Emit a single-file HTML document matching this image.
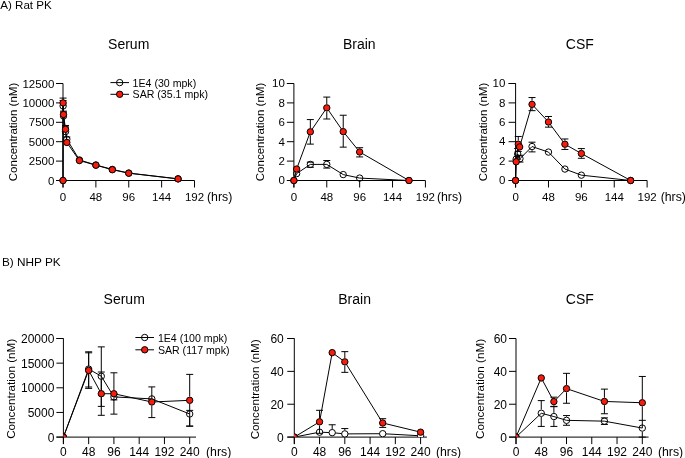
<!DOCTYPE html><html><head><meta charset="utf-8"><style>html,body{margin:0;padding:0;background:#fff;}svg{display:block;}</style></head><body>
<svg width="685" height="458" viewBox="0 0 685 458" font-family='"Liberation Sans", sans-serif' fill="#000">
<rect width="685" height="458" fill="#fff"/>
<g style="opacity:0.999">
<text x="0.2" y="8.7" font-size="11.6">A) Rat PK</text>
<text x="1.9" y="266.1" font-size="11.8">B) NHP PK</text>
<path d="M56 83.5H63V187.5" fill="none" stroke="#000" stroke-width="1.0"/>
<path d="M56 180.5H194.52" fill="none" stroke="#000" stroke-width="1.0"/>
<path d="M56 180.5H63M56 161.1H63M56 141.7H63M56 122.3H63M56 102.9H63M56 83.5H63M63 180.5V187.5M95.88 180.5V187.5M128.76 180.5V187.5M161.64 180.5V187.5M194.52 180.5V187.5" fill="none" stroke="#000" stroke-width="1.0"/>
<text x="54.4" y="184.5" text-anchor="end" font-size="11.5">0</text>
<text x="54.4" y="165.1" text-anchor="end" font-size="11.5">2500</text>
<text x="54.4" y="145.7" text-anchor="end" font-size="11.5">5000</text>
<text x="54.4" y="126.3" text-anchor="end" font-size="11.5">7500</text>
<text x="54.4" y="106.9" text-anchor="end" font-size="11.5">10000</text>
<text x="54.4" y="87.5" text-anchor="end" font-size="11.5">12500</text>
<text x="63" y="200.5" text-anchor="middle" font-size="11.5">0</text>
<text x="95.88" y="200.5" text-anchor="middle" font-size="11.5">48</text>
<text x="128.76" y="200.5" text-anchor="middle" font-size="11.5">96</text>
<text x="161.64" y="200.5" text-anchor="middle" font-size="11.5">144</text>
<text x="194.52" y="200.5" text-anchor="middle" font-size="11.5">192</text>
<text x="207" y="200.5" font-size="12.3">(hrs)</text>
<text x="128.7" y="48.5" text-anchor="middle" font-size="14">Serum</text>
<text transform="translate(16.8 132) rotate(-90)" text-anchor="middle" font-size="11.5">Concentration (nM)</text>
<path d="M286.9 83.5H293.9V187.5" fill="none" stroke="#000" stroke-width="1.0"/>
<path d="M286.9 180.5H425.42" fill="none" stroke="#000" stroke-width="1.0"/>
<path d="M286.9 180.5H293.9M286.9 161.1H293.9M286.9 141.7H293.9M286.9 122.3H293.9M286.9 102.9H293.9M286.9 83.5H293.9M293.9 180.5V187.5M326.78 180.5V187.5M359.66 180.5V187.5M392.54 180.5V187.5M425.42 180.5V187.5" fill="none" stroke="#000" stroke-width="1.0"/>
<text x="284.9" y="184.3" text-anchor="end" font-size="11.5">0</text>
<text x="284.9" y="164.9" text-anchor="end" font-size="11.5">2</text>
<text x="284.9" y="145.5" text-anchor="end" font-size="11.5">4</text>
<text x="284.9" y="126.1" text-anchor="end" font-size="11.5">6</text>
<text x="284.9" y="106.7" text-anchor="end" font-size="11.5">8</text>
<text x="284.9" y="87.3" text-anchor="end" font-size="11.5">10</text>
<text x="293.9" y="200.5" text-anchor="middle" font-size="11.5">0</text>
<text x="326.78" y="200.5" text-anchor="middle" font-size="11.5">48</text>
<text x="359.66" y="200.5" text-anchor="middle" font-size="11.5">96</text>
<text x="392.54" y="200.5" text-anchor="middle" font-size="11.5">144</text>
<text x="425.42" y="200.5" text-anchor="middle" font-size="11.5">192</text>
<text x="436.9" y="200.5" font-size="12.3">(hrs)</text>
<text x="359.3" y="48.5" text-anchor="middle" font-size="14">Brain</text>
<text transform="translate(263.5 132) rotate(-90)" text-anchor="middle" font-size="11.5">Concentration (nM)</text>
<path d="M508.6 83.5H515.6V187.5" fill="none" stroke="#000" stroke-width="1.0"/>
<path d="M508.6 180.5H647.12" fill="none" stroke="#000" stroke-width="1.0"/>
<path d="M508.6 180.5H515.6M508.6 161.1H515.6M508.6 141.7H515.6M508.6 122.3H515.6M508.6 102.9H515.6M508.6 83.5H515.6M515.6 180.5V187.5M548.48 180.5V187.5M581.36 180.5V187.5M614.24 180.5V187.5M647.12 180.5V187.5" fill="none" stroke="#000" stroke-width="1.0"/>
<text x="505.3" y="184.1" text-anchor="end" font-size="11.5">0</text>
<text x="505.3" y="164.7" text-anchor="end" font-size="11.5">2</text>
<text x="505.3" y="145.3" text-anchor="end" font-size="11.5">4</text>
<text x="505.3" y="125.9" text-anchor="end" font-size="11.5">6</text>
<text x="505.3" y="106.5" text-anchor="end" font-size="11.5">8</text>
<text x="505.3" y="87.1" text-anchor="end" font-size="11.5">10</text>
<text x="515.6" y="200.5" text-anchor="middle" font-size="11.5">0</text>
<text x="548.48" y="200.5" text-anchor="middle" font-size="11.5">48</text>
<text x="581.36" y="200.5" text-anchor="middle" font-size="11.5">96</text>
<text x="614.24" y="200.5" text-anchor="middle" font-size="11.5">144</text>
<text x="647.12" y="200.5" text-anchor="middle" font-size="11.5">192</text>
<text x="660.7" y="200.5" font-size="12.3">(hrs)</text>
<text x="579.8" y="48.5" text-anchor="middle" font-size="14">CSF</text>
<text transform="translate(486.8 132) rotate(-90)" text-anchor="middle" font-size="11.5">Concentration (nM)</text>
<g>
<path d="M63 180.5 L63.1 106 L63.51 116.09 L65.53 131.61 L66.84 139.22 L79.44 159.94 L95.88 164.98 L112.32 169.4 L128.76 173.05 L178.08 178.83" fill="none" stroke="#000" stroke-width="1"/>
</g>
<g>
<path d="M63 180.5 L63.1 102.9 L63.51 114.54 L65.53 129.28 L66.84 142.48 L79.44 160.56 L95.88 165.21 L112.32 169.71 L128.76 173.21 L178.08 178.91" fill="none" stroke="#000" stroke-width="1"/>
</g>
<path d="M63.1 102.3V100.57M59.6 100.57H66.6M63.51 112.39V112.21M60.01 112.21H67.01M65.53 127.91V126.96M62.03 126.96H69.03M63.34 137.04H70.34" fill="none" stroke="#000" stroke-width="1"/>
<path d="M63.1 99.2V98.09M59.6 98.09H66.6M60.01 111.13H67.01M65.53 125.58V125.48M62.03 125.48H69.03" fill="none" stroke="#000" stroke-width="1"/>
<g>
<circle cx="63" cy="180.5" r="3.2" fill="none" stroke="#000" stroke-width="1"/>
<circle cx="63.1" cy="106" r="3.2" fill="none" stroke="#000" stroke-width="1"/>
<circle cx="63.51" cy="116.09" r="3.2" fill="none" stroke="#000" stroke-width="1"/>
<circle cx="65.53" cy="131.61" r="3.2" fill="none" stroke="#000" stroke-width="1"/>
<circle cx="66.84" cy="139.22" r="3.2" fill="none" stroke="#000" stroke-width="1"/>
<circle cx="79.44" cy="159.94" r="3.2" fill="none" stroke="#000" stroke-width="1"/>
<circle cx="95.88" cy="164.98" r="3.2" fill="none" stroke="#000" stroke-width="1"/>
<circle cx="112.32" cy="169.4" r="3.2" fill="none" stroke="#000" stroke-width="1"/>
<circle cx="128.76" cy="173.05" r="3.2" fill="none" stroke="#000" stroke-width="1"/>
<circle cx="178.08" cy="178.83" r="3.2" fill="none" stroke="#000" stroke-width="1"/>
</g>
<g>
<circle cx="63" cy="180.5" r="3.2" fill="#f81c0c" stroke="#000" stroke-width="1"/>
<circle cx="63.1" cy="102.9" r="3.2" fill="#f81c0c" stroke="#000" stroke-width="1"/>
<circle cx="63.51" cy="114.54" r="3.2" fill="#f81c0c" stroke="#000" stroke-width="1"/>
<circle cx="65.53" cy="129.28" r="3.2" fill="#f81c0c" stroke="#000" stroke-width="1"/>
<circle cx="66.84" cy="142.48" r="3.2" fill="#f81c0c" stroke="#000" stroke-width="1"/>
<circle cx="79.44" cy="160.56" r="3.2" fill="#f81c0c" stroke="#000" stroke-width="1"/>
<circle cx="95.88" cy="165.21" r="3.2" fill="#f81c0c" stroke="#000" stroke-width="1"/>
<circle cx="112.32" cy="169.71" r="3.2" fill="#f81c0c" stroke="#000" stroke-width="1"/>
<circle cx="128.76" cy="173.21" r="3.2" fill="#f81c0c" stroke="#000" stroke-width="1"/>
<circle cx="178.08" cy="178.91" r="3.2" fill="#f81c0c" stroke="#000" stroke-width="1"/>
</g>
<path d="M110.4 82.6H129" stroke="#000" stroke-width="1"/>
<circle cx="119.7" cy="82.6" r="3.2" fill="none" stroke="#000" stroke-width="1"/>
<text x="132.6" y="86.7" font-size="10.6">1E4 (30 mpk)</text>
<path d="M110.4 94.3H129" stroke="#000" stroke-width="1"/>
<circle cx="119.7" cy="94.3" r="3.2" fill="#f81c0c" stroke="#000" stroke-width="1"/>
<text x="132.6" y="98.4" font-size="10.6">SAR (35.1 mpk)</text>
<g>
<path d="M293.9 180.5 L296.64 173.61 L310.34 164.4 L326.78 164.4 L343.22 174.58 L359.66 178.07 L408.98 180.5" fill="none" stroke="#000" stroke-width="1"/>
</g>
<g>
<path d="M293.9 180.5 L296.64 169.05 L310.34 131.81 L326.78 107.85 L343.22 131.61 L359.66 151.98 L408.98 180.5" fill="none" stroke="#000" stroke-width="1"/>
</g>
<path d="M306.84 162.17H313.84M306.84 167.31H313.84M326.78 160.7V160.52M323.28 160.52H330.28M323.28 168.08H330.28" fill="none" stroke="#000" stroke-width="1"/>
<path d="M310.34 128.11V119.58M306.84 119.58H313.84M310.34 135.51V144.12M306.84 144.12H313.84M326.78 104.15V97.08M323.28 97.08H330.28M326.78 111.55V119M323.28 119H330.28M343.22 127.91V115.22M339.72 115.22H346.72M343.22 135.31V147.13M339.72 147.13H346.72M359.66 148.28V147.71M356.16 147.71H363.16M359.66 155.68V156.93M356.16 156.93H363.16" fill="none" stroke="#000" stroke-width="1"/>
<g>
<circle cx="293.9" cy="180.5" r="3.2" fill="none" stroke="#000" stroke-width="1"/>
<circle cx="296.64" cy="173.61" r="3.2" fill="none" stroke="#000" stroke-width="1"/>
<circle cx="310.34" cy="164.4" r="3.2" fill="none" stroke="#000" stroke-width="1"/>
<circle cx="326.78" cy="164.4" r="3.2" fill="none" stroke="#000" stroke-width="1"/>
<circle cx="343.22" cy="174.58" r="3.2" fill="none" stroke="#000" stroke-width="1"/>
<circle cx="359.66" cy="178.07" r="3.2" fill="none" stroke="#000" stroke-width="1"/>
<circle cx="408.98" cy="180.5" r="3.2" fill="none" stroke="#000" stroke-width="1"/>
</g>
<g>
<circle cx="293.9" cy="180.5" r="3.2" fill="#f81c0c" stroke="#000" stroke-width="1"/>
<circle cx="296.64" cy="169.05" r="3.2" fill="#f81c0c" stroke="#000" stroke-width="1"/>
<circle cx="310.34" cy="131.81" r="3.2" fill="#f81c0c" stroke="#000" stroke-width="1"/>
<circle cx="326.78" cy="107.85" r="3.2" fill="#f81c0c" stroke="#000" stroke-width="1"/>
<circle cx="343.22" cy="131.61" r="3.2" fill="#f81c0c" stroke="#000" stroke-width="1"/>
<circle cx="359.66" cy="151.98" r="3.2" fill="#f81c0c" stroke="#000" stroke-width="1"/>
<circle cx="408.98" cy="180.5" r="3.2" fill="#f81c0c" stroke="#000" stroke-width="1"/>
</g>
<g>
<path d="M515.6 180.5 L516.15 159.16 L517.65 153.92 L519.98 158.68 L532.04 146.55 L548.48 152.08 L564.92 169.05 L581.36 175.16 L630.68 180.5" fill="none" stroke="#000" stroke-width="1"/>
</g>
<g>
<path d="M515.6 180.5 L516.15 161.78 L518.27 144.22 L519.64 146.94 L532.04 104.36 L548.48 122.01 L564.92 144.22 L581.36 153.53 L630.68 180.5" fill="none" stroke="#000" stroke-width="1"/>
</g>
<path d="M517.65 150.22V148.49M514.15 148.49H521.15M517.65 157.62V159.16M514.15 159.16H521.15M516.48 155.28H523.48M516.48 162.07H523.48M532.04 142.85V142.19M528.54 142.19H535.54M532.04 150.25V151.88M528.54 151.88H535.54" fill="none" stroke="#000" stroke-width="1"/>
<path d="M518.27 140.52V136.46M514.77 136.46H521.77M518.27 147.92V151.4M514.77 151.4H521.77M532.04 100.66V97.56M528.54 97.56H535.54M532.04 108.06V110.66M528.54 110.66H535.54M548.48 118.31V116.48M544.98 116.48H551.98M548.48 125.71V127.15M544.98 127.15H551.98M564.92 140.52V138.98M561.42 138.98H568.42M564.92 147.92V149.46M561.42 149.46H568.42M581.36 149.83V148.59M577.86 148.59H584.86M581.36 157.23V158.29M577.86 158.29H584.86" fill="none" stroke="#000" stroke-width="1"/>
<g>
<circle cx="515.6" cy="180.5" r="3.2" fill="none" stroke="#000" stroke-width="1"/>
<circle cx="516.15" cy="159.16" r="3.2" fill="none" stroke="#000" stroke-width="1"/>
<circle cx="517.65" cy="153.92" r="3.2" fill="none" stroke="#000" stroke-width="1"/>
<circle cx="519.98" cy="158.68" r="3.2" fill="none" stroke="#000" stroke-width="1"/>
<circle cx="532.04" cy="146.55" r="3.2" fill="none" stroke="#000" stroke-width="1"/>
<circle cx="548.48" cy="152.08" r="3.2" fill="none" stroke="#000" stroke-width="1"/>
<circle cx="564.92" cy="169.05" r="3.2" fill="none" stroke="#000" stroke-width="1"/>
<circle cx="581.36" cy="175.16" r="3.2" fill="none" stroke="#000" stroke-width="1"/>
<circle cx="630.68" cy="180.5" r="3.2" fill="none" stroke="#000" stroke-width="1"/>
</g>
<g>
<circle cx="515.6" cy="180.5" r="3.2" fill="#f81c0c" stroke="#000" stroke-width="1"/>
<circle cx="516.15" cy="161.78" r="3.2" fill="#f81c0c" stroke="#000" stroke-width="1"/>
<circle cx="518.27" cy="144.22" r="3.2" fill="#f81c0c" stroke="#000" stroke-width="1"/>
<circle cx="519.64" cy="146.94" r="3.2" fill="#f81c0c" stroke="#000" stroke-width="1"/>
<circle cx="532.04" cy="104.36" r="3.2" fill="#f81c0c" stroke="#000" stroke-width="1"/>
<circle cx="548.48" cy="122.01" r="3.2" fill="#f81c0c" stroke="#000" stroke-width="1"/>
<circle cx="564.92" cy="144.22" r="3.2" fill="#f81c0c" stroke="#000" stroke-width="1"/>
<circle cx="581.36" cy="153.53" r="3.2" fill="#f81c0c" stroke="#000" stroke-width="1"/>
<circle cx="630.68" cy="180.5" r="3.2" fill="#f81c0c" stroke="#000" stroke-width="1"/>
</g>
<path d="M56.4 338.5H63.4V444.1" fill="none" stroke="#000" stroke-width="1.0"/>
<path d="M56.4 437.1H196.02" fill="none" stroke="#000" stroke-width="1.0"/>
<path d="M56.4 437.1H63.4M56.4 412.45H63.4M56.4 387.8H63.4M56.4 363.15H63.4M56.4 338.5H63.4M63.4 437.1V444.1M88.66 437.1V444.1M113.92 437.1V444.1M139.18 437.1V444.1M164.44 437.1V444.1M189.7 437.1V444.1" fill="none" stroke="#000" stroke-width="1.0"/>
<text x="54.4" y="441.7" text-anchor="end" font-size="12">0</text>
<text x="54.4" y="417.05" text-anchor="end" font-size="12">5000</text>
<text x="54.4" y="392.4" text-anchor="end" font-size="12">10000</text>
<text x="54.4" y="367.75" text-anchor="end" font-size="12">15000</text>
<text x="54.4" y="343.1" text-anchor="end" font-size="12">20000</text>
<text x="63.4" y="455.8" text-anchor="middle" font-size="12">0</text>
<text x="88.66" y="455.8" text-anchor="middle" font-size="12">48</text>
<text x="113.92" y="455.8" text-anchor="middle" font-size="12">96</text>
<text x="139.18" y="455.8" text-anchor="middle" font-size="12">144</text>
<text x="164.44" y="455.8" text-anchor="middle" font-size="12">192</text>
<text x="189.7" y="455.8" text-anchor="middle" font-size="12">240</text>
<text x="206" y="455.8" font-size="12.3">(hrs)</text>
<text x="124.2" y="304.2" text-anchor="middle" font-size="14">Serum</text>
<text transform="translate(14.6 388.8) rotate(-90)" text-anchor="middle" font-size="11.7">Concentration (nM)</text>
<path d="M287.3 338.5H294.3V444.1" fill="none" stroke="#000" stroke-width="1.0"/>
<path d="M287.3 437.1H426.92" fill="none" stroke="#000" stroke-width="1.0"/>
<path d="M287.3 437.1H294.3M287.3 404.23H294.3M287.3 371.37H294.3M287.3 338.5H294.3M294.3 437.1V444.1M319.56 437.1V444.1M344.82 437.1V444.1M370.08 437.1V444.1M395.34 437.1V444.1M420.6 437.1V444.1" fill="none" stroke="#000" stroke-width="1.0"/>
<text x="283.8" y="441.5" text-anchor="end" font-size="12">0</text>
<text x="283.8" y="408.63" text-anchor="end" font-size="12">20</text>
<text x="283.8" y="375.77" text-anchor="end" font-size="12">40</text>
<text x="283.8" y="342.9" text-anchor="end" font-size="12">60</text>
<text x="294.3" y="455.8" text-anchor="middle" font-size="12">0</text>
<text x="319.56" y="455.8" text-anchor="middle" font-size="12">48</text>
<text x="344.82" y="455.8" text-anchor="middle" font-size="12">96</text>
<text x="370.08" y="455.8" text-anchor="middle" font-size="12">144</text>
<text x="395.34" y="455.8" text-anchor="middle" font-size="12">192</text>
<text x="420.6" y="455.8" text-anchor="middle" font-size="12">240</text>
<text x="435.9" y="455.8" font-size="12.3">(hrs)</text>
<text x="354.6" y="304.2" text-anchor="middle" font-size="14">Brain</text>
<text transform="translate(259.1 389.3) rotate(-90)" text-anchor="middle" font-size="11.7">Concentration (nM)</text>
<path d="M509 338.5H516V444.1" fill="none" stroke="#000" stroke-width="1.0"/>
<path d="M509 437.1H648.62" fill="none" stroke="#000" stroke-width="1.0"/>
<path d="M509 437.1H516M509 404.23H516M509 371.37H516M509 338.5H516M516 437.1V444.1M541.26 437.1V444.1M566.52 437.1V444.1M591.78 437.1V444.1M617.04 437.1V444.1M642.3 437.1V444.1" fill="none" stroke="#000" stroke-width="1.0"/>
<text x="507" y="441.7" text-anchor="end" font-size="12">0</text>
<text x="507" y="408.83" text-anchor="end" font-size="12">20</text>
<text x="507" y="375.97" text-anchor="end" font-size="12">40</text>
<text x="507" y="343.1" text-anchor="end" font-size="12">60</text>
<text x="516" y="455.8" text-anchor="middle" font-size="12">0</text>
<text x="541.26" y="455.8" text-anchor="middle" font-size="12">48</text>
<text x="566.52" y="455.8" text-anchor="middle" font-size="12">96</text>
<text x="591.78" y="455.8" text-anchor="middle" font-size="12">144</text>
<text x="617.04" y="455.8" text-anchor="middle" font-size="12">192</text>
<text x="642.3" y="455.8" text-anchor="middle" font-size="12">240</text>
<text x="657.9" y="455.8" font-size="12.3">(hrs)</text>
<text x="579.8" y="304.2" text-anchor="middle" font-size="14">CSF</text>
<text transform="translate(483.8 389) rotate(-90)" text-anchor="middle" font-size="11.7">Concentration (nM)</text>
<clipPath id="cp0"><rect x="63.4" y="328.5" width="200" height="108.6"/></clipPath>
<clipPath id="cp1"><rect x="294.3" y="328.5" width="200" height="108.6"/></clipPath>
<clipPath id="cp2"><rect x="516" y="328.5" width="200" height="108.6"/></clipPath>
<g clip-path="url(#cp0)">
<path d="M63.4 437.1 L88.66 369.07 L101.29 376.21 L113.92 396.92 L151.81 398.89 L189.7 413.98" fill="none" stroke="#000" stroke-width="1"/>
</g>
<g clip-path="url(#cp0)">
<path d="M63.4 437.1 L88.66 370.4 L101.29 393.72 L113.92 393.72 L151.81 402 L189.7 400.32" fill="none" stroke="#000" stroke-width="1"/>
</g>
<path d="M88.66 365.37V351.81M85.16 351.81H92.16M88.66 372.77V388.39M85.16 388.39H92.16M101.29 372.51V346.88M97.79 346.88H104.79M101.29 379.91V406.39M97.79 406.39H104.79M110.42 393.72H117.42M110.42 399.9H117.42M186.2 410.38H193.2M189.7 417.68V426.01M186.2 426.01H193.2" fill="none" stroke="#000" stroke-width="1"/>
<path d="M88.66 366.7V352.8M85.16 352.8H92.16M88.66 374.1V387.01M85.16 387.01H92.16M101.29 390.02V372.02M97.79 372.02H104.79M101.29 397.42V415.31M97.79 415.31H104.79M113.92 390.02V372.81M110.42 372.81H117.42M113.92 397.42V414.13M110.42 414.13H117.42M151.81 398.3V386.91M148.31 386.91H155.31M151.81 405.7V417.58M148.31 417.58H155.31M189.7 396.62V374.39M186.2 374.39H193.2M189.7 404.02V426.25M186.2 426.25H193.2" fill="none" stroke="#000" stroke-width="1"/>
<g clip-path="url(#cp0)">
<circle cx="63.4" cy="437.1" r="3.2" fill="none" stroke="#000" stroke-width="1"/>
<circle cx="88.66" cy="369.07" r="3.2" fill="none" stroke="#000" stroke-width="1"/>
<circle cx="101.29" cy="376.21" r="3.2" fill="none" stroke="#000" stroke-width="1"/>
<circle cx="113.92" cy="396.92" r="3.2" fill="none" stroke="#000" stroke-width="1"/>
<circle cx="151.81" cy="398.89" r="3.2" fill="none" stroke="#000" stroke-width="1"/>
<circle cx="189.7" cy="413.98" r="3.2" fill="none" stroke="#000" stroke-width="1"/>
</g>
<g clip-path="url(#cp0)">
<circle cx="63.4" cy="437.1" r="3.2" fill="#f81c0c" stroke="#000" stroke-width="1"/>
<circle cx="88.66" cy="370.4" r="3.2" fill="#f81c0c" stroke="#000" stroke-width="1"/>
<circle cx="101.29" cy="393.72" r="3.2" fill="#f81c0c" stroke="#000" stroke-width="1"/>
<circle cx="113.92" cy="393.72" r="3.2" fill="#f81c0c" stroke="#000" stroke-width="1"/>
<circle cx="151.81" cy="402" r="3.2" fill="#f81c0c" stroke="#000" stroke-width="1"/>
<circle cx="189.7" cy="400.32" r="3.2" fill="#f81c0c" stroke="#000" stroke-width="1"/>
</g>
<path d="M135.4 337.5H154" stroke="#000" stroke-width="1"/>
<circle cx="144.7" cy="337.5" r="3.2" fill="none" stroke="#000" stroke-width="1"/>
<text x="157.9" y="341.6" font-size="10.6">1E4 (100 mpk)</text>
<path d="M135.4 349.8H154" stroke="#000" stroke-width="1"/>
<circle cx="144.7" cy="349.8" r="3.2" fill="#f81c0c" stroke="#000" stroke-width="1"/>
<text x="157.9" y="353.9" font-size="10.6">SAR (117 mpk)</text>
<g clip-path="url(#cp1)">
<path d="M294.3 437.1 L319.56 432.17 L332.19 432.66 L344.82 433.9 L382.71 433.7 L420.6 435.79" fill="none" stroke="#000" stroke-width="1"/>
</g>
<path d="M332.19 428.96V424.78M328.69 424.78H335.69M344.82 430.2V428.55M341.32 428.55H348.32" fill="none" stroke="#000" stroke-width="1"/>
<g clip-path="url(#cp1)">
<circle cx="294.3" cy="437.1" r="3.2" fill="#fff" stroke="#000" stroke-width="1"/>
<circle cx="319.56" cy="432.17" r="3.2" fill="#fff" stroke="#000" stroke-width="1"/>
<circle cx="332.19" cy="432.66" r="3.2" fill="#fff" stroke="#000" stroke-width="1"/>
<circle cx="344.82" cy="433.9" r="3.2" fill="#fff" stroke="#000" stroke-width="1"/>
<circle cx="382.71" cy="433.7" r="3.2" fill="#fff" stroke="#000" stroke-width="1"/>
<circle cx="420.6" cy="435.79" r="3.2" fill="#fff" stroke="#000" stroke-width="1"/>
</g>
<path d="M319.56 418.12V410.31M316.06 410.31H323.06M319.56 425.52V433.32M316.06 433.32H323.06M344.82 358.14V351.65M341.32 351.65H348.32M344.82 365.54V372.35M341.32 372.35H348.32M382.71 419.27V418.69M379.21 418.69H386.21M382.71 426.67V427.4M379.21 427.4H386.21" fill="none" stroke="#000" stroke-width="1"/>
<g clip-path="url(#cp1)">
<path d="M294.3 437.1 L319.56 421.82 L332.19 352.63 L344.82 361.84 L382.71 422.97 L420.6 432.17" fill="none" stroke="#000" stroke-width="1"/>
</g>
<g clip-path="url(#cp1)">
<circle cx="294.3" cy="437.1" r="3.2" fill="#f81c0c" stroke="#000" stroke-width="1"/>
<circle cx="319.56" cy="421.82" r="3.2" fill="#f81c0c" stroke="#000" stroke-width="1"/>
<circle cx="332.19" cy="352.63" r="3.2" fill="#f81c0c" stroke="#000" stroke-width="1"/>
<circle cx="344.82" cy="361.84" r="3.2" fill="#f81c0c" stroke="#000" stroke-width="1"/>
<circle cx="382.71" cy="422.97" r="3.2" fill="#f81c0c" stroke="#000" stroke-width="1"/>
<circle cx="420.6" cy="432.17" r="3.2" fill="#f81c0c" stroke="#000" stroke-width="1"/>
</g>
<g clip-path="url(#cp2)">
<path d="M516 437.1 L541.26 413.27 L553.89 416.56 L566.52 420.34 L604.41 421.16 L642.3 428.06" fill="none" stroke="#000" stroke-width="1"/>
</g>
<g clip-path="url(#cp2)">
<path d="M516 437.1 L541.26 377.94 L553.89 401.6 L566.52 388.62 L604.41 401.44 L642.3 402.75" fill="none" stroke="#000" stroke-width="1"/>
</g>
<path d="M541.26 409.57V400.62M537.76 400.62H544.76M541.26 416.97V426.42M537.76 426.42H544.76M553.89 412.86V406.37M550.39 406.37H557.39M553.89 420.26V426.42M550.39 426.42H557.39M566.52 416.64V415.57M563.02 415.57H570.02M566.52 424.04V425.27M563.02 425.27H570.02M600.91 417.87H607.91M600.91 424.45H607.91M642.3 431.76V437.1M638.8 437.1H645.8" fill="none" stroke="#000" stroke-width="1"/>
<path d="M553.89 397.9V397.17M550.39 397.17H557.39M553.89 405.3V406.7M550.39 406.7H557.39M566.52 384.92V373.34M563.02 373.34H570.02M566.52 392.32V403.25M563.02 403.25H570.02M604.41 397.74V389.11M600.91 389.11H607.91M604.41 405.14V413.76M600.91 413.76H607.91M642.3 399.05V376.46M638.8 376.46H645.8M642.3 406.45V420.34M638.8 420.34H645.8" fill="none" stroke="#000" stroke-width="1"/>
<path d="M642.3 420.34V428.06" stroke="#000" stroke-width="1"/>
<g clip-path="url(#cp2)">
<circle cx="516" cy="437.1" r="3.2" fill="none" stroke="#000" stroke-width="1"/>
<circle cx="541.26" cy="413.27" r="3.2" fill="none" stroke="#000" stroke-width="1"/>
<circle cx="553.89" cy="416.56" r="3.2" fill="none" stroke="#000" stroke-width="1"/>
<circle cx="566.52" cy="420.34" r="3.2" fill="none" stroke="#000" stroke-width="1"/>
<circle cx="604.41" cy="421.16" r="3.2" fill="none" stroke="#000" stroke-width="1"/>
<circle cx="642.3" cy="428.06" r="3.2" fill="none" stroke="#000" stroke-width="1"/>
</g>
<g clip-path="url(#cp2)">
<circle cx="516" cy="437.1" r="3.2" fill="#f81c0c" stroke="#000" stroke-width="1"/>
<circle cx="541.26" cy="377.94" r="3.2" fill="#f81c0c" stroke="#000" stroke-width="1"/>
<circle cx="553.89" cy="401.6" r="3.2" fill="#f81c0c" stroke="#000" stroke-width="1"/>
<circle cx="566.52" cy="388.62" r="3.2" fill="#f81c0c" stroke="#000" stroke-width="1"/>
<circle cx="604.41" cy="401.44" r="3.2" fill="#f81c0c" stroke="#000" stroke-width="1"/>
<circle cx="642.3" cy="402.75" r="3.2" fill="#f81c0c" stroke="#000" stroke-width="1"/>
</g>
</g></svg></body></html>
